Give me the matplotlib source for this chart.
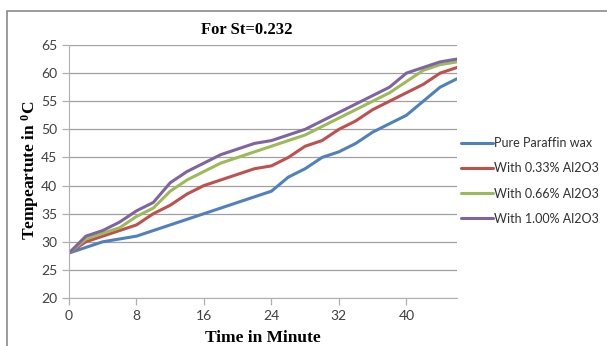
import numpy as np
import matplotlib.pyplot as plt
from matplotlib.patches import Rectangle

# data (time in minutes, temperature in deg C)
time_min = [0, 2, 4, 6, 8, 10, 12, 14, 16, 18, 20, 22, 24, 26, 28, 30, 32, 34, 36, 38, 40, 42, 44, 46]
pure_wax = [28, 29, 30, 30.5, 31, 32, 33, 34, 35, 36, 37, 38, 39, 41.5, 43, 45, 46, 47.5, 49.5, 51, 52.5, 55, 57.5, 59]
al2o3_033 = [28, 30, 31, 32, 33, 35, 36.5, 38.5, 40, 41, 42, 43, 43.5, 45, 47, 48, 50, 51.5, 53.5, 55, 56.5, 58, 60, 61]
al2o3_066 = [28, 30.5, 31.5, 32.5, 34.5, 36, 39, 41, 42.5, 44, 45, 46, 47, 48, 49, 50.5, 52, 53.5, 55, 56.5, 58.5, 60.5, 61.5, 62]
al2o3_100 = [28, 31, 32, 33.5, 35.5, 37, 40.5, 42.5, 44, 45.5, 46.5, 47.5, 48, 49, 50, 51.5, 53, 54.5, 56, 57.5, 60, 61, 62, 62.5]

labels = ["Pure Paraffin wax", "With 0.33% Al2O3", "With 0.66% Al2O3", "With 1.00% Al2O3"]
colors = ["#4F81BD", "#C0504D", "#9BBB59", "#8064A2"]
x_ticks = [0, 8, 16, 24, 32, 40]
y_ticks = [20, 25, 30, 35, 40, 45, 50, 55, 60, 65]

fig = plt.figure(figsize=(6.07, 3.46), dpi=100)
ax = fig.add_axes([69 / 607, 48 / 346, 388 / 607, 253 / 346])

for ys, lab, c in zip([pure_wax, al2o3_033, al2o3_066, al2o3_100], labels, colors):
    ax.plot(time_min, ys, color=c, lw=2.2, label=lab, solid_capstyle="round", solid_joinstyle="round")

ax.set_xlim(0, 46)
ax.set_ylim(20, 65)
ax.set_xticks(x_ticks)
ax.set_yticks(y_ticks)
ax.grid(axis="y", color="#a0a0a0", lw=0.9)
ax.set_axisbelow(True)
for s in ["top", "right"]:
    ax.spines[s].set_visible(False)
for s in ["left", "bottom"]:
    ax.spines[s].set_color("#b0b0b0")
ax.tick_params(axis="both", colors="#b0b0b0", labelcolor="#404040", length=5, width=0.9, labelsize=10)
for t in ax.get_xticklabels() + ax.get_yticklabels():
    t.set_family("Lato")

fig.text(247 / 607, 1 - 30 / 346, "For St=0.232", ha="center", va="center",
         family="Liberation Serif", weight="bold", fontsize=12)
fig.text(263 / 607, 1 - 338 / 346, "Time in Minute", ha="center", va="center",
         family="Liberation Serif", weight="bold", fontsize=12.5)
fig.text(30 / 607, 1 - 170 / 346, r"Tempeartute in $\mathregular{^{0}}$C", ha="center", va="center",
         rotation=90, family="Liberation Serif", weight="bold", fontsize=12.5)

leg = fig.legend(loc="center left", bbox_to_anchor=(450 / 607, 1 - 181 / 346), frameon=False,
                 prop={"family": "Lato", "size": 9}, handlelength=2.5, handletextpad=0.1,
                 labelspacing=1.05)
for t in leg.get_texts():
    t.set_color("#303030")

fig.patches.append(Rectangle((7 / 607, -0.1), 1.2, 1 - 11 / 346 + 0.1, transform=fig.transFigure,
                             fill=False, edgecolor="#8a8a8a", lw=1.2))

fig.savefig("out.png", dpi=100)
